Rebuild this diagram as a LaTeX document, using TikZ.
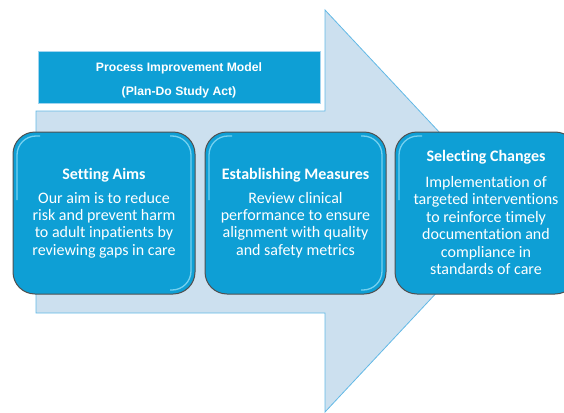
\documentclass[tikz,border=0pt]{standalone}
\usepackage{fontspec}
\setmainfont{Carlito}[Ligatures={NoCommon}]
\newfontfamily\arialfont{Liberation Sans}
\definecolor{arrowfill}{HTML}{CCE0EF}
\definecolor{arrowline}{HTML}{62B9E6}
\definecolor{boxfill}{HTML}{0E9FD5}
\definecolor{boxline}{HTML}{505050}
\definecolor{gloss}{HTML}{8FDDF6}
\tikzset{
  stepbox/.style={draw=boxline, line width=1pt, fill=boxfill, rounded corners=22pt},
  glossline/.style={draw=gloss, line width=1.3pt, opacity=0.8, rounded corners=19pt},
  headtext/.style={text=white, font=\fontsize{16}{17.4}\selectfont\bfseries, anchor=base, inner sep=0pt},
  bodytext/.style={text=white, font=\fontsize{16}{17.4}\selectfont, align=center, inner sep=0pt},
  titletext/.style={text=white, font=\arialfont\bfseries\fontsize{12.2}{14}\selectfont, inner sep=0pt}
}
\begin{document}
\begin{tikzpicture}[x=1pt,y=-1pt]
\useasboundingbox (0,0) rectangle (564,412);
\begin{scope}
\clip (0,0) rectangle (564,412);
% big arrow
\draw[fill=arrowfill, draw=arrowline, line width=0.8pt]
  (36,111) -- (325,111) -- (325,10) -- (513,211) -- (325,412) -- (325,313) -- (36,313) -- cycle;
% title box
\node[fill=boxfill, draw=arrowline!60!white, line width=0.6pt, minimum width=282pt, minimum height=52pt, inner sep=0pt] (title) at (179,77) {};
\node[titletext] (t1) at (179,68) {Process Improvement Model};
\node[titletext] (t2) at (179,92) {(Plan-Do Study Act)};
% boxes
\draw[stepbox] (13,132) rectangle (195,294);
\draw[glossline] (170,136) -- (191,136) -- (191,290) -- (170,290);
\draw[glossline] (40,136) -- (17,136) -- (17,200);
\draw[stepbox] (205,132) rectangle (386,294);
\draw[glossline] (361,136) -- (382,136) -- (382,290) -- (361,290);
\draw[glossline] (232,136) -- (209,136) -- (209,200);
\draw[stepbox] (395,132) rectangle (577,294);
\draw[glossline] (422,136) -- (399,136) -- (399,200);
\node[headtext] (h1) at (104,179) {Setting Aims};
\node[bodytext] (p1) at (104,225) {Our aim is to reduce\\risk and prevent harm\\to adult inpatients by\\reviewing gaps in care};
\node[headtext] (h2) at (295.5,179) {Establishing Measures};
\node[bodytext] (p2) at (295.5,225) {Review clinical\\performance to ensure\\alignment with quality\\and safety metrics};
\node[headtext] (h3) at (486,161) {Selecting Changes};
\node[bodytext] (p3) at (486,225.5) {Implementation of\\targeted interventions\\to reinforce timely\\documentation and\\compliance in\\standards of care};
\end{scope}
\end{tikzpicture}
\end{document}
